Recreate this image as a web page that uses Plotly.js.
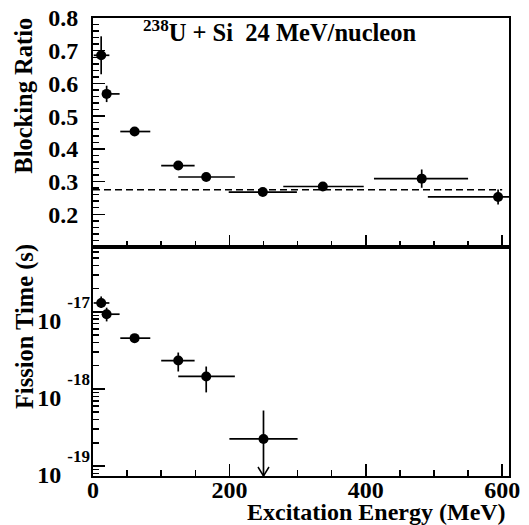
<!DOCTYPE html>
<html><head><meta charset="utf-8">
<script src="https://cdn.plot.ly/plotly-3.0.1.min.js"></script>
<style>html,body{margin:0;padding:0;background:#fff}#chart{width:529px;height:525px}</style>
</head><body><div id="chart"></div>
<script>
// ---- Top panel: blocking ratio vs excitation energy ----
const energy = [12, 20, 61, 125, 166, 249, 337, 482, 594];
const energyErrMinus = [11, 7, 21, 25, 41, 50, 58, 70, 103];
const energyErrPlus = [12, 19, 23, 24, 42, 50, 60, 68, 100];
const blockingRatio = [0.686, 0.568, 0.453, 0.349, 0.314, 0.268, 0.285, 0.309, 0.253];
const blockingErr = [0.058, 0.025, 0.010, 0.010, 0.010, 0.010, 0.012, 0.028, 0.023];
const blockingRefLevel = 0.275;
const blockingRefEnergy = [0, 600];

// ---- Bottom panel: fission time vs excitation energy ----
const fissionEnergy = [12, 20, 61, 125, 166, 250];
const fissionEnergyErrMinus = [11, 7, 21, 25, 41, 50];
const fissionEnergyErrPlus = [12, 19, 23, 24, 42, 50];
const fissionTime = [1.30e-17, 9.3e-18, 4.55e-18, 2.33e-18, 1.45e-18, 2.24e-19];
const fissionTimeErrPlus = [2.8e-18, 2.0e-18, 4.0e-19, 6.3e-19, 5.0e-19, 3.0e-19];
const fissionTimeErrMinus = [1.8e-18, 1.8e-18, 4.0e-19, 6.5e-19, 5.5e-19, 0];
const fissionUpperLimit = [false, false, false, false, false, true];

// ---- Axis ticks / labels ----
const xTickVals = [0, 200, 400, 600];
const xTickText = ['0', '200', '400', '600'];
const ratioTickVals = [0.2, 0.3, 0.4, 0.5, 0.6, 0.7, 0.8];
const ratioTickText = ['0.2', '0.3', '0.4', '0.5', '0.6', '0.7', '0.8'];
const timeExponents = [-19, -18, -17];

const xRange = [0, 610];
const ratioRange = [0.1, 0.8];
const logTimeRange = [-19.13, -16.16];

const black = '#000';
const fam = 'Liberation Serif';
const bold = (s) => ({family: fam, size: s, color: black, weight: 'bold'});

const timeTickVals = timeExponents.map(e => Math.pow(10, e));
const timeTickText = timeExponents.map(e =>
  '<span style="font-size:24px">10</span><span style="font-size:24px">&nbsp;</span>' +
  '<sup><span style="font-size:17px">' + e + '</span></sup>');
const timeMinorVals = [];
for (let e = -20; e <= -16; e++) for (let d = 2; d <= 9; d++) timeMinorVals.push(d * Math.pow(10, e));

const eb = (plus, minus) => ({type: 'data', symmetric: false, array: plus, arrayminus: minus,
  color: black, thickness: 1.7, width: 0});

const traces = [
  {x: blockingRefEnergy, y: [blockingRefLevel, blockingRefLevel], xaxis: 'x2', yaxis: 'y2',
   mode: 'lines', line: {color: black, width: 1.5, dash: '7px,4px'}, hoverinfo: 'skip'},
  {x: energy, y: blockingRatio, xaxis: 'x2', yaxis: 'y2', mode: 'markers',
   marker: {color: black, size: 10},
   error_x: eb(energyErrPlus, energyErrMinus),
   error_y: eb(blockingErr, blockingErr)},
  {x: fissionEnergy, y: fissionTime, xaxis: 'x', yaxis: 'y', mode: 'markers',
   marker: {color: black, size: 10},
   error_x: eb(fissionEnergyErrPlus, fissionEnergyErrMinus),
   error_y: eb(fissionTimeErrPlus, fissionTimeErrMinus)}
];

// upper-limit arrows built from the data
const shapes = [];
const yBottom = Math.pow(10, logTimeRange[0]);
fissionEnergy.forEach((xv, i) => {
  if (!fissionUpperLimit[i]) return;
  shapes.push({type: 'line', xref: 'x', yref: 'y', x0: xv, x1: xv, y0: fissionTime[i], y1: yBottom,
    line: {color: black, width: 1.7}});
  shapes.push({type: 'path', xref: 'x', yref: 'y', xsizemode: 'pixel', ysizemode: 'pixel',
    xanchor: xv, yanchor: yBottom, path: 'M-5.5,9L0,0L5.5,9',
    line: {color: black, width: 1.5}});
});

const axBase = {showline: true, linecolor: black, linewidth: 2, mirror: true, showgrid: false,
  zeroline: false, ticks: 'inside', ticklen: 12, tickwidth: 1.5, tickcolor: black};

const xMinor = {dtick: 50, tick0: 0, ticks: 'inside', ticklen: 6, tickwidth: 1.5, tickcolor: black, showgrid: false};

const layout = {
  width: 529, height: 525,
  margin: {l: 93, r: 20, t: 18, b: 49},
  paper_bgcolor: '#fff', plot_bgcolor: '#fff',
  showlegend: false,
  xaxis: Object.assign({}, axBase, {domain: [0, 1], anchor: 'y', range: xRange,
    tickmode: 'array', tickvals: xTickVals, ticktext: xTickText, tickfont: bold(24),
    ticklabelstandoff: -9, minor: xMinor}),
  yaxis: Object.assign({}, axBase, {domain: [0, 0.5], anchor: 'x', type: 'log', range: logTimeRange,
    tickmode: 'array', tickvals: timeTickVals, ticktext: timeTickText, tickfont: bold(50),
    ticklabelshift: 0, ticklabelstandoff: -9,
    minor: {tickmode: 'array', tickvals: timeMinorVals, ticks: 'inside', ticklen: 6, tickwidth: 1.5, tickcolor: black, showgrid: false}}),
  xaxis2: Object.assign({}, axBase, {domain: [0, 1], anchor: 'y2', range: xRange, matches: 'x',
    tickmode: 'array', tickvals: xTickVals, showticklabels: false, minor: xMinor}),
  yaxis2: Object.assign({}, axBase, {domain: [0.5, 1], anchor: 'x2', range: ratioRange,
    tickmode: 'array', tickvals: ratioTickVals, ticktext: ratioTickText, tickfont: bold(24),
    ticklabelstandoff: 8,
    minor: {dtick: 0.02, tick0: 0, ticks: 'inside', ticklen: 6, tickwidth: 1.5, tickcolor: black, showgrid: false}}),
  shapes: shapes,
  annotations: [
    {text: '<sup>238</sup>U + Si&nbsp; 24 MeV/nucleon', xref: 'paper', yref: 'paper',
     x: 0.115, y: 0.972, xanchor: 'left', yanchor: 'middle', showarrow: false, font: bold(24.5)},
    {text: 'Blocking Ratio', xref: 'paper', yref: 'paper', textangle: -90,
     x: -0.166, y: 1.005, xanchor: 'center', yanchor: 'top', showarrow: false, font: bold(24.5)},
    {text: 'Fission Time (s)', xref: 'paper', yref: 'paper', textangle: -90,
     x: -0.163, y: 0.51, xanchor: 'center', yanchor: 'top', showarrow: false, font: bold(24.5)},
    {text: 'Excitation Energy (MeV)', xref: 'paper', yref: 'paper',
     x: 0.998, y: -0.0787, xanchor: 'right', yanchor: 'middle', showarrow: false, font: bold(24)}
  ]
};

Plotly.newPlot('chart', traces, layout, {displayModeBar: false, staticPlot: true});
</script>
</body></html>
